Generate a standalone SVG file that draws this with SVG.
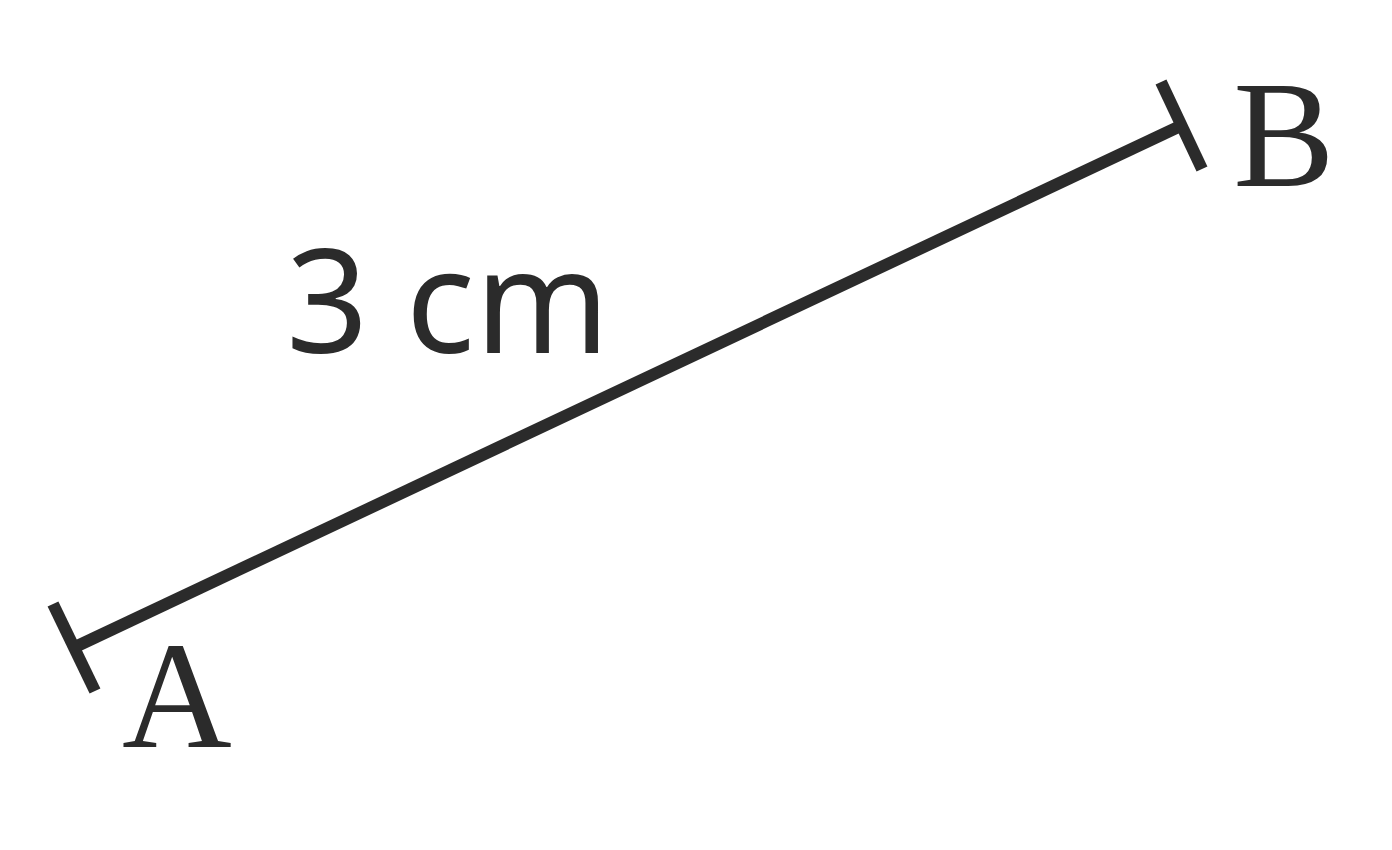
<svg xmlns="http://www.w3.org/2000/svg" width="1392" height="850" viewBox="0 0 1392 850">
<style>
.seg{stroke:#2b2b2b;stroke-width:12;fill:none;stroke-linecap:butt}
.lbl{font-family:"Liberation Serif","DejaVu Serif",serif;font-size:152px;fill:#2b2b2b;text-anchor:middle}
.len{font-family:"Noto Sans","Open Sans",sans-serif;font-size:144px;fill:#2b2b2b}
</style>
<rect width="1392" height="850" fill="#ffffff"/>
<g id="connectors">
<line class="seg" x1="74" y1="647.5" x2="1181.5" y2="125.5"/>
</g>
<g id="tickA"><line class="seg" x1="53" y1="604" x2="95" y2="691"/></g>
<g id="tickB"><line class="seg" x1="1161" y1="82" x2="1202" y2="169"/></g>
<g id="labelA"><text class="lbl" x="177" y="747">A</text></g>
<g id="labelB"><text class="lbl" x="1284" y="186">B</text></g>
<g id="length"><text class="len" x="286" y="353">3 cm</text></g>
</svg>
